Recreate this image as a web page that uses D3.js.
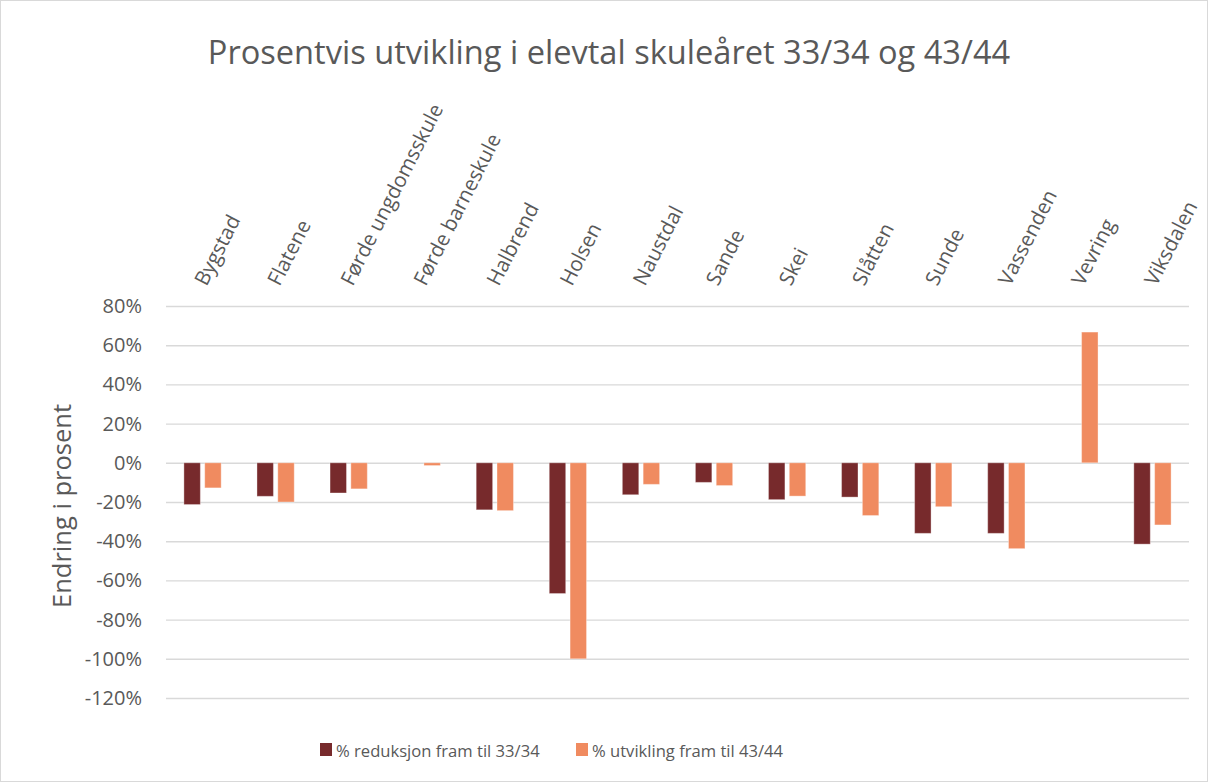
<!DOCTYPE html>
<html>
<head>
<meta charset="utf-8">
<script src="https://cdn.jsdelivr.net/npm/d3@7"></script>
<style>
  body { margin: 0; background: #fff; }
  text { font-family: 'Open Sans', sans-serif; fill: #595959; }
  .y.axis .domain { display: none; }
  .y.axis line { stroke: #d9d9d9; stroke-width: 1.4; }
</style>
</head>
<body>
<div class="chart"></div>
<script>
// data
const schools = ['Bygstad', 'Flatene', 'Førde ungdomsskule', 'Førde barneskule', 'Halbrend', 'Holsen',
  'Naustdal', 'Sande', 'Skei', 'Slåtten', 'Sunde', 'Vassenden', 'Vevring', 'Viksdalen']
const reduksjon = [-21.3, -17.1, -15.4, 0, -24, -66.7, -16.3, -10, -18.8, -17.5, -36, -36, 0, -41.5]
const utvikling = [-12.8, -20, -13.3, -1.4, -24.4, -100, -11, -11.6, -17, -26.9, -22.4, -43.8, 66.7, -31.7]
const seriesNames = ['% reduksjon fram til 33/34', '% utvikling fram til 43/44']
const yTicks = [80, 60, 40, 20, 0, -20, -40, -60, -80, -100, -120]

const colors = ['#772a2c', '#f08b60']

const svg_width = 1208
const svg_height = 782
const margin = { top: 306, right: 19, bottom: 84, left: 166 }
const chart_width = svg_width - margin.left - margin.right
const chart_height = svg_height - margin.top - margin.bottom

const svg = d3.select('.chart').append('svg')
  .attr('width', svg_width).attr('height', svg_height)

// chart border
svg.append('rect')
  .attr('x', 0.5).attr('y', 0.5)
  .attr('width', svg_width - 1).attr('height', svg_height - 1)
  .attr('fill', 'none').attr('stroke', '#d9d9d9')

// title
svg.append('text')
  .attr('x', 609).attr('y', 64)
  .attr('text-anchor', 'middle')
  .style('font-size', '32.6px')
  .text('Prosentvis utvikling i elevtal skuleåret 33/34 og 43/44')

const g = svg.append('g')
  .attr('transform', `translate(${margin.left}, ${margin.top})`)

// scales
const yScale = d3.scaleLinear([-120, 80], [chart_height, 0])
const x0 = d3.scaleBand().domain(schools)
  .range([0, chart_width])
  .paddingInner(0.49).paddingOuter(0.245)
const x1 = d3.scaleBand().domain([0, 1])
  .range([0, x0.bandwidth()])
  .paddingInner(0.21)

// gridlines + tick labels
const yAxis = d3.axisLeft(yScale)
  .tickValues(yTicks)
  .tickFormat(d => d + '%')
  .tickSizeInner(-chart_width)
  .tickSizeOuter(0)
  .tickPadding(24)
const yAxisDraw = g.append('g').attr('class', 'y axis').call(yAxis)
yAxisDraw.selectAll('text')
  .style('font-size', '20px')
  .attr('fill', '#595959')
  .style('font-family', "'Open Sans', sans-serif")

// y axis title
svg.append('text')
  .attr('transform', 'translate(71, 506) rotate(-90)')
  .attr('text-anchor', 'middle')
  .style('font-size', '25.5px')
  .text('Endring i prosent')

// bars
const rows = schools.map((s, i) => ({ school: s, values: [reduksjon[i], utvikling[i]] }))
const groups = g.append('g').attr('class', 'bars')
  .selectAll('g').data(rows).join('g')
  .attr('transform', d => `translate(${x0(d.school)}, 0)`)
groups.selectAll('rect').data(d => d.values.map((v, k) => ({ k, v })))
  .join('rect')
  .attr('x', d => x1(d.k))
  .attr('width', x1.bandwidth())
  .attr('y', d => yScale(Math.max(0, d.v)))
  .attr('height', d => Math.abs(yScale(d.v) - yScale(0)))
  .attr('fill', d => colors[d.k])
  .attr('stroke', '#fff').attr('stroke-opacity', 0.35).attr('stroke-width', 1)

// category labels (rotated, above the plot)
svg.append('g').attr('class', 'cat-labels')
  .selectAll('text').data(schools).join('text')
  .attr('transform', d => `translate(${margin.left + x0(d) + x0.bandwidth() / 2 + 4}, 287) rotate(-63)`)
  .style('font-size', '20.5px')
  .text(d => d)

// legend
const legendX = [320, 576]
const legend = svg.append('g').attr('class', 'legend')
  .selectAll('g').data(seriesNames).join('g')
  .attr('transform', (d, i) => `translate(${legendX[i]}, 0)`)
legend.append('rect')
  .attr('x', 0).attr('y', 743)
  .attr('width', 12).attr('height', 13)
  .attr('fill', (d, i) => colors[i])
legend.append('text')
  .attr('x', 16).attr('y', 757)
  .style('font-size', '16.6px')
  .text(d => d)
</script>
</body>
</html>
